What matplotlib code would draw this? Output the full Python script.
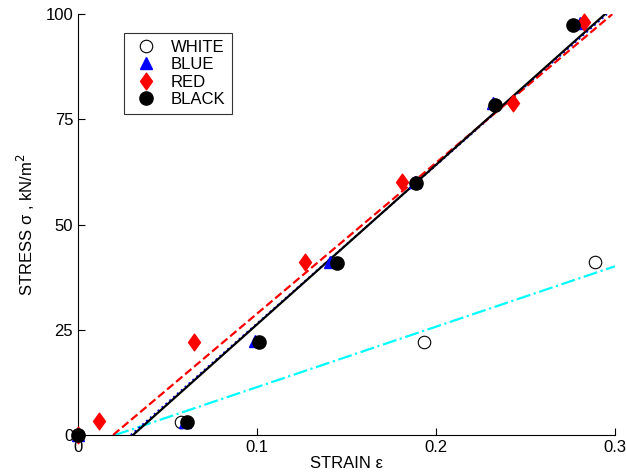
import matplotlib
matplotlib.use("Agg")
import matplotlib.pyplot as plt
from matplotlib.path import Path

plt.rcParams["font.family"] = ["Liberation Sans", "DejaVu Sans"]

# measured points (strain, stress kN/m^2)
white_x = [0.0, 0.0575, 0.1933, 0.2888]
white_y = [0.0, 3.1, 22.1, 41.1]
blue_x = [0.0, 0.0595, 0.099, 0.141, 0.188, 0.232, 0.2805]
blue_y = [0.0, 3.2, 22.3, 41.1, 60.2, 79.0, 97.8]
red_x = [0.0, 0.0117, 0.0648, 0.127, 0.181, 0.243, 0.2827]
red_y = [0.0, 3.3, 22.1, 41.1, 60.1, 78.9, 98.1]
black_x = [0.0, 0.0609, 0.1011, 0.1445, 0.189, 0.233, 0.2765]
black_y = [0.0, 3.0, 22.0, 40.8, 60.0, 78.5, 97.5]

# linear fits, end points
white_fit_x = [0.0207, 0.3]
white_fit_y = [0.0, 40.1]
blue_fit_x = [0.0295, 0.2955]
blue_fit_y = [0.0, 100.0]
red_fit_x = [0.0196, 0.2985]
red_fit_y = [0.0, 100.0]
black_fit_x = [0.0307, 0.2944]
black_fit_y = [0.0, 100.0]

diamond = Path([(0, 1), (0.72, 0), (0, -1), (-0.72, 0), (0, 1)],
               [Path.MOVETO, Path.LINETO, Path.LINETO, Path.LINETO, Path.CLOSEPOLY])

fig = plt.figure(figsize=(6.26, 4.73), dpi=100)
ax = fig.add_axes([0.1246, 0.0803, 0.8578, 0.8897])

ax.plot(white_fit_x, white_fit_y, color="cyan", ls="-.", lw=1.6, zorder=2)
ax.plot(blue_fit_x, blue_fit_y, color="blue", ls=":", lw=1.4, zorder=2)
ax.plot(red_fit_x, red_fit_y, color="red", ls="--", lw=1.6, zorder=2)
ax.plot(black_fit_x, black_fit_y, color="black", ls="-", lw=1.6, zorder=2)

ax.plot(white_x, white_y, "o", mfc="white", mec="black", mew=0.8, ms=9, ls="none",
        label="WHITE", zorder=3, clip_on=False)
ax.plot(blue_x, blue_y, "^", color="blue", ms=9, ls="none", label="BLUE", zorder=3, clip_on=False)
ax.plot(red_x, red_y, marker=diamond, color="red", ms=12, ls="none", label="RED", zorder=3,
        clip_on=False)
ax.plot(black_x, black_y, "o", color="black", ms=9.5, ls="none", label="BLACK", zorder=4,
        clip_on=False)

ax.set_xlim(0, 0.3)
ax.set_ylim(0, 100)
ax.set_xticks([0, 0.1, 0.2, 0.3])
ax.set_xticklabels(["0", "0.1", "0.2", "0.3"])
ax.set_yticks([0, 25, 50, 75, 100])
ax.tick_params(direction="in", length=5, labelsize=12, width=0.8)
for s in ["top", "right"]:
    ax.spines[s].set_visible(False)
for s in ["left", "bottom"]:
    ax.spines[s].set_linewidth(0.8)

ax.set_xlabel("STRAIN ε", fontsize=12, labelpad=1)
ax.set_ylabel("STRESS σ , kN/m$^2$", fontsize=12, labelpad=6)

leg = ax.legend(loc="upper left", bbox_to_anchor=(0.07, 0.975), fontsize=12,
                frameon=True, fancybox=False, edgecolor="black", handletextpad=0.6,
                borderpad=0.4, labelspacing=0.15, handlelength=1.8)
leg.get_frame().set_linewidth(0.8)

fig.savefig("out.png", dpi=100)
